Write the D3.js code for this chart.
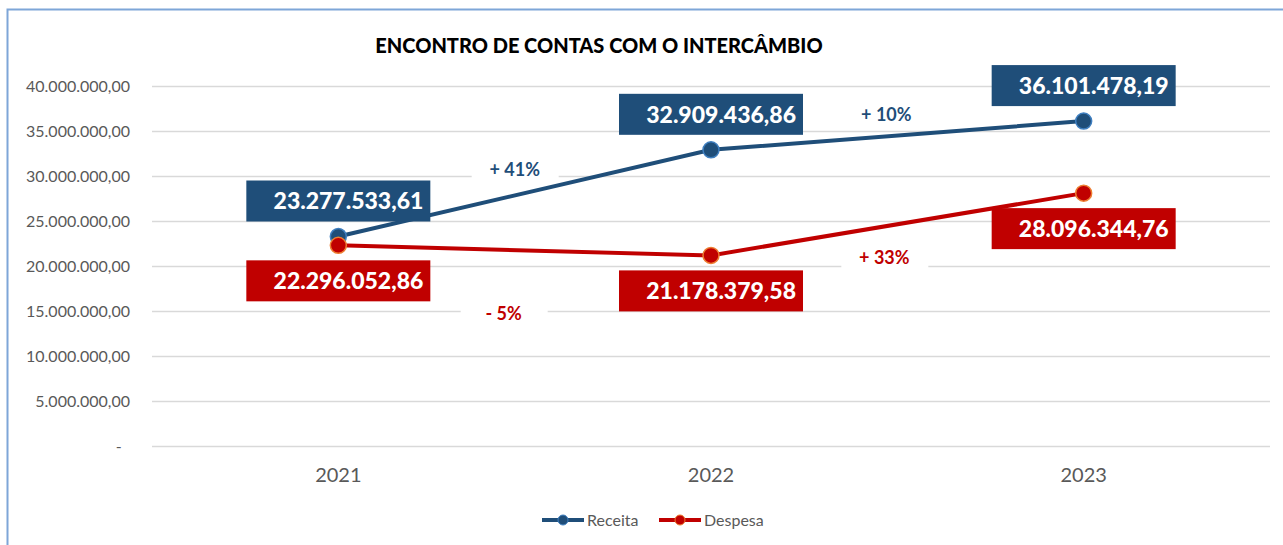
<!DOCTYPE html>
<html>
<head>
<meta charset="utf-8">
<script src="https://cdn.jsdelivr.net/npm/d3@7"></script>
<style>
  body { margin: 0; background: #fff; }
  text { font-family: Lato, "Open Sans", sans-serif; }
</style>
</head>
<body>
<div class="chart"></div>
<script>
var width = 1283,
    height = 545;

// data
var years = ["2021", "2022", "2023"];
var receita = [23277533.61, 32909436.86, 36101478.19];
var despesa = [22296052.86, 21178379.58, 28096344.76];
var yTicks = [0, 5000000, 10000000, 15000000, 20000000, 25000000, 30000000, 35000000, 40000000];
var seriesNames = ["Receita", "Despesa"];

var blue = "#1f4e79", blueEdge = "#3f7fc0",
    red = "#c00000", redEdge = "#ed7d31",
    grid = "#d9d9d9", axisText = "#595959";

var margin = {left: 152, right: 13, top: 86, bottom: 99};

var locale = d3.formatLocale({decimal: ",", thousands: ".", grouping: [3], currency: ["R$", ""]});
var fmt = locale.format(",.2f");

var x = d3.scaleBand()
    .domain(years)
    .range([margin.left, width - margin.right]);

var y = d3.scaleLinear()
    .domain([0, 40000000])
    .range([height - margin.bottom, margin.top]);

var svg = d3.select(".chart").append("svg")
    .attr("width", width)
    .attr("height", height);

// frame
svg.append("rect")
    .attr("x", 7.5).attr("y", 9.5)
    .attr("width", 1300).attr("height", 600)
    .attr("fill", "none")
    .attr("stroke", "#7ea6d8")
    .attr("stroke-width", 2);

svg.append("text")
    .attr("x", 599).attr("y", 53)
    .attr("text-anchor", "middle")
    .style("font-size", "20px")
    .style("font-weight", "900")
    .attr("fill", "#000")
    .text("ENCONTRO DE CONTAS COM O INTERCÂMBIO");

// y axis + grid
var yAxis = d3.axisLeft(y)
    .tickValues(yTicks)
    .tickSize(-(width - margin.left - margin.right))
    .tickPadding(22)
    .tickFormat(function(d) { return d === 0 ? "-  " : fmt(d); });

var gy = svg.append("g")
    .attr("transform", "translate(" + margin.left + ",0)")
    .call(yAxis);
gy.select(".domain").remove();
gy.selectAll(".tick line").attr("stroke", grid).attr("stroke-width", 1.5);
gy.selectAll(".tick text")
    .attr("fill", axisText)
    .style("font-size", "16px")
    .style("font-family", "Lato, sans-serif")
    .style("white-space", "pre");

// x axis
var xAxis = d3.axisBottom(x).tickSize(0).tickPadding(22);
var gx = svg.append("g")
    .attr("transform", "translate(0," + (height - margin.bottom) + ")")
    .call(xAxis);
gx.select(".domain").remove();
gx.selectAll(".tick text")
    .attr("fill", axisText)
    .style("font-size", "20px")
    .style("font-family", "Lato, sans-serif");

var cx = function(d, i) { return x(years[i]) + x.bandwidth() / 2; };

var line = d3.line()
    .x(cx)
    .y(function(d) { return y(d); });

// percent change labels
function pctText(a, b) {
  var p = Math.round((b / a - 1) * 100);
  return (p >= 0 ? "+ " : "- ") + Math.abs(p) + "%";
}
var pctLabels = [
  {text: pctText(receita[0], receita[1]), color: blue, i: 0, v: receita, dx: -10, dy: -23},
  {text: pctText(receita[1], receita[2]), color: blue, i: 1, v: receita, dx: -11, dy: -21},
  {text: pctText(despesa[0], despesa[1]), color: red, i: 0, v: despesa, dx: -21, dy: 63},
  {text: pctText(despesa[1], despesa[2]), color: red, i: 1, v: despesa, dx: -13, dy: 33}
];

var pg = svg.selectAll(".pct")
    .data(pctLabels)
    .enter().append("g")
    .attr("class", "pct")
    .attr("transform", function(d) {
      var mx = (cx(null, d.i) + cx(null, d.i + 1)) / 2 + d.dx;
      var my = (y(d.v[d.i]) + y(d.v[d.i + 1])) / 2 + d.dy;
      return "translate(" + mx + "," + my + ")";
    });
pg.append("rect")
    .attr("x", -43).attr("y", -16)
    .attr("width", 87).attr("height", 28)
    .attr("fill", "#fff");
pg.append("text")
    .attr("text-anchor", "middle")
    .attr("dy", "0.35em")
    .attr("fill", function(d) { return d.color; })
    .style("font-size", "18px")
    .style("font-weight", "bold")
    .text(function(d) { return d.text; });

// lines and markers
var series = [
  {name: seriesNames[0], values: receita, color: blue, edge: blueEdge, above: true},
  {name: seriesNames[1], values: despesa, color: red, edge: redEdge, above: false}
];

series.forEach(function(s) {
  svg.append("path")
    .attr("d", line(s.values))
    .attr("fill", "none")
    .attr("stroke", s.color)
    .attr("stroke-width", 4);
});

series.forEach(function(s) {
  svg.selectAll(null)
    .data(s.values)
    .enter().append("circle")
    .attr("cx", cx)
    .attr("cy", function(d) { return y(d); })
    .attr("r", 8)
    .attr("fill", s.color)
    .attr("stroke", s.edge)
    .attr("stroke-width", 1.5);
});

// value labels
var boxW = 184, boxH = 41, gap = 15;
series.forEach(function(s) {
  var lg = svg.selectAll(null)
    .data(s.values)
    .enter().append("g")
    .attr("transform", function(d, i) {
      var top = s.above ? y(d) - gap - boxH : y(d) + gap;
      return "translate(" + (cx(d, i) - boxW / 2) + "," + top + ")";
    });
  lg.append("rect")
    .attr("width", boxW).attr("height", boxH)
    .attr("fill", s.color);
  lg.append("text")
    .attr("x", boxW - 7)
    .attr("y", boxH / 2)
    .attr("dy", "0.36em")
    .attr("text-anchor", "end")
    .attr("fill", "#fff")
    .style("font-size", "23px")
    .style("font-weight", "900")
    .text(function(d) { return fmt(d); });
});

// legend
var legendX = [542, 659];
var leg = svg.selectAll(".legend")
    .data(series)
    .enter().append("g")
    .attr("class", "legend")
    .attr("transform", function(d, i) { return "translate(" + legendX[i] + ",520)"; });
leg.append("line")
    .attr("x1", 0).attr("x2", 42)
    .attr("stroke", function(d) { return d.color; })
    .attr("stroke-width", 4);
leg.append("circle")
    .attr("cx", 21).attr("r", 5)
    .attr("fill", function(d) { return d.color; })
    .attr("stroke", function(d) { return d.edge; })
    .attr("stroke-width", 1);
leg.append("text")
    .attr("x", 45)
    .attr("dy", "0.35em")
    .attr("fill", axisText)
    .style("font-size", "16px")
    .text(function(d) { return d.name; });
</script>
</body>
</html>
